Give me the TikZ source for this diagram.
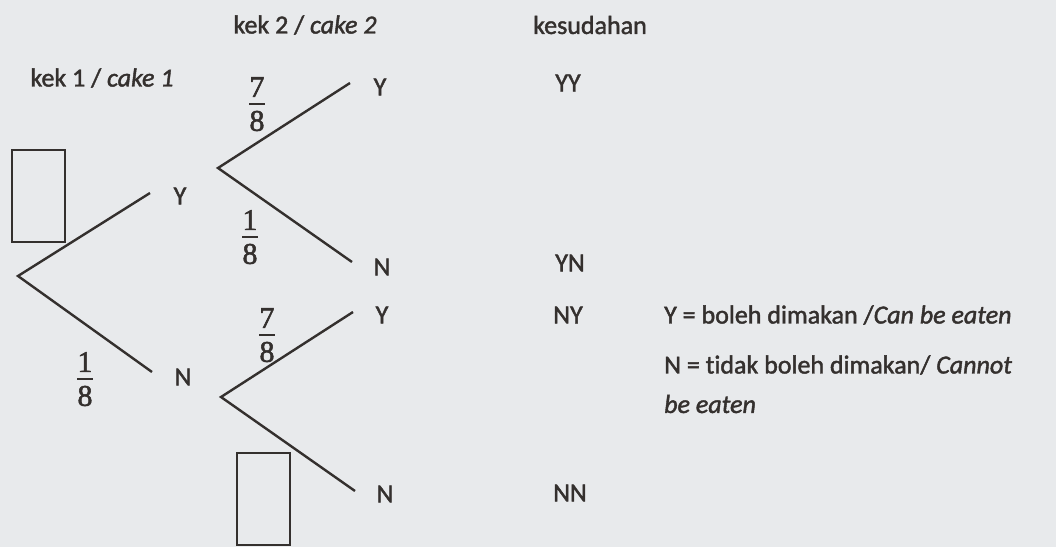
\documentclass[tikz,border=0pt]{standalone}
\usepackage{fontspec}
\setmainfont{Carlito}[Ligatures=NoCommon, FakeBold=1.6]
\newfontfamily\digitfont{Liberation Serif}[FakeBold=1.8]
\definecolor{paper}{HTML}{E8EAEC}
\definecolor{ink}{HTML}{34302E}
\tikzset{
  lbl/.style={font=\fontsize{26}{30}\selectfont, text=ink, inner sep=0pt},
  digit/.style={font=\digitfont\fontsize{30}{32}\selectfont, text=ink, inner sep=0pt},
  bar/.style={draw=ink, line width=2.2pt},
  branch/.style={draw=ink, line width=2.4pt},
  blank/.style={draw=ink, line width=1.8pt},
}
% fraction drawn as numerator, bar and denominator: name, x, bar y, num, den
\newcommand{\fracat}[5]{%
  \node[digit] (#1n) at (#2,#3-17) {#4};
  \node[digit] (#1d) at (#2,#3+17) {#5};
  \draw[bar] (#2-8,#3) -- (#2+8,#3);
}
\begin{document}
\begin{tikzpicture}[x=1pt,y=-1pt]
  \fill[paper] (0,0) rectangle (1056,547);
  \useasboundingbox (0,0) rectangle (1056,547);

  % column headings
  \node[lbl] (h1) at (102,78) {kek 1 / \textit{cake 1}};
  \node[lbl] (h2) at (305,25) {kek 2 / \textit{cake 2}};
  \node[lbl] (h3) at (590,25) {kesudahan};

  % answer boxes
  \draw[blank] (12,150) rectangle (65,242);
  \draw[blank] (237,453) rectangle (290,545);

  % first cake
  \coordinate (r) at (18,276);
  \coordinate (a1) at (150,193);
  \coordinate (b1) at (152,372);
  \draw[branch] (a1) -- (r) -- (b1);
  \node[lbl] (Y1) at (180,196) {Y};
  \node[lbl] (N1) at (183,377) {N};
  \fracat{f1}{85}{379}{1}{8}

  % second cake after Y
  \coordinate (ry) at (218,168);
  \coordinate (a2) at (350,83);
  \coordinate (b2) at (352,262);
  \draw[branch] (a2) -- (ry) -- (b2);
  \node[lbl] (Y2) at (380,87) {Y};
  \node[lbl] (N2) at (382,267) {N};
  \fracat{f2}{257}{104}{7}{8}
  \fracat{f3}{250}{237}{1}{8}

  % second cake after N
  \coordinate (rn) at (221,397);
  \coordinate (a3) at (353,312);
  \coordinate (b3) at (355,491);
  \draw[branch] (a3) -- (rn) -- (b3);
  \node[lbl] (Y3) at (382,315) {Y};
  \node[lbl] (N3) at (385,494) {N};
  \fracat{f4}{267}{335}{7}{8}

  % outcomes
  \node[lbl] (o1) at (568,83) {YY};
  \node[lbl] (o2) at (570,263) {YN};
  \node[lbl] (o3) at (568,315) {NY};
  \node[lbl] (o4) at (570,493) {NN};

  % key
  \node[lbl, anchor=west] (k1) at (664,315) {Y = boleh dimakan /\textit{Can be eaten}};
  \node[lbl, anchor=west] (k2) at (664,365) {N = tidak boleh dimakan/ \textit{Cannot}};
  \node[lbl, anchor=west] (k3) at (664,404) {\textit{be eaten}};
\end{tikzpicture}
\end{document}
